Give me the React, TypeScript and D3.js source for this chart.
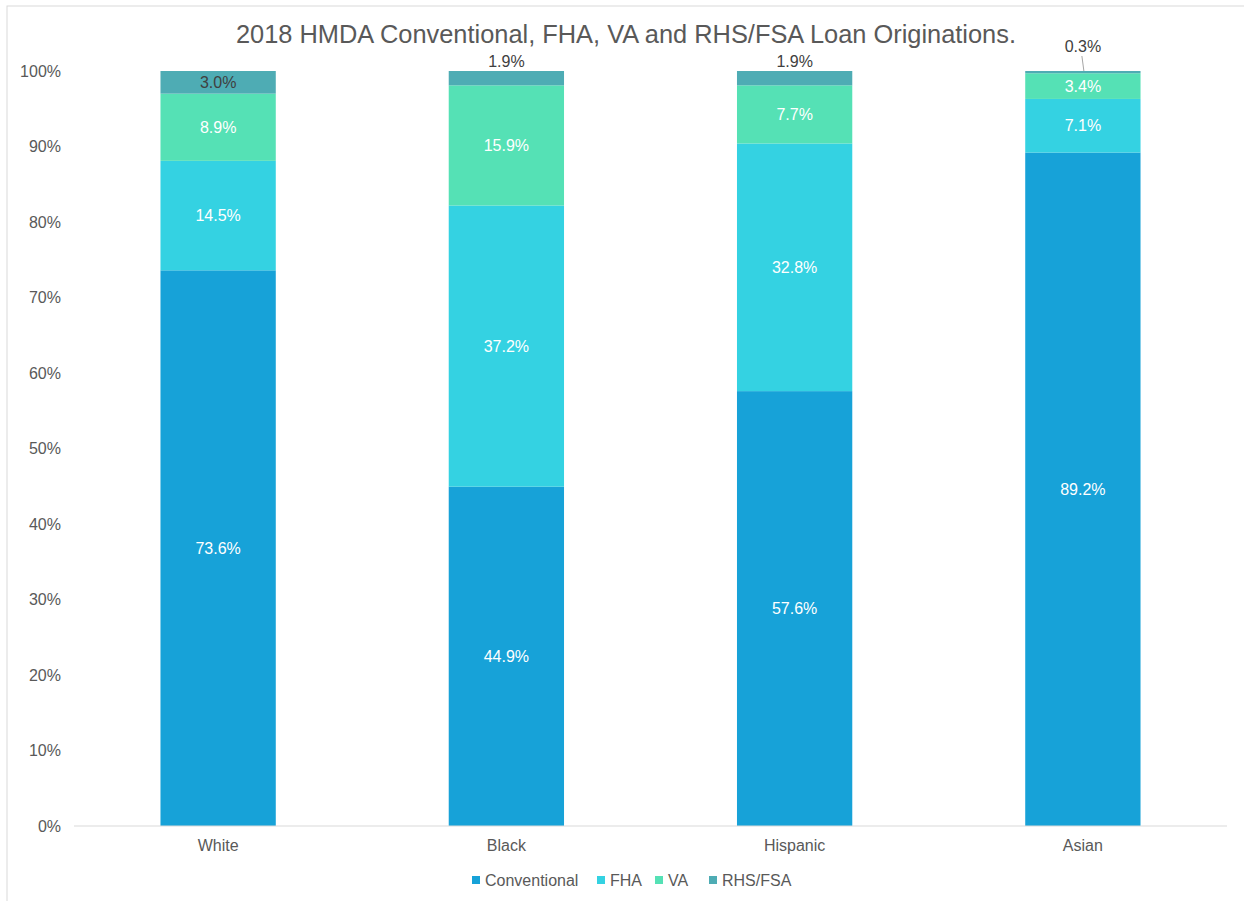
import React from "react"
import * as d3 from "d3"

const categories = ["White", "Black", "Hispanic", "Asian"]
const seriesNames = ["Conventional", "FHA", "VA", "RHS/FSA"]
const conventional = [73.6, 44.9, 57.6, 89.2]
const fha = [14.5, 37.2, 32.8, 7.1]
const va = [8.9, 15.9, 7.7, 3.4]
const rhsFsa = [3.0, 1.9, 1.9, 0.3]
const yTicks = [0, 0.1, 0.2, 0.3, 0.4, 0.5, 0.6, 0.7, 0.8, 0.9, 1]

const colors = ["#17a2d8", "#34d2e2", "#55e1b5", "#4eacb4"]
const textGray = "#595959"
const font = "'Liberation Sans', Arial, sans-serif"

const W = 1244
const H = 901
const margin = { top: 71, right: 17, bottom: 75, left: 74 }

export default function App() {
  const rows = categories.map((c, i) => ({
    name: c,
    Conventional: conventional[i],
    FHA: fha[i],
    VA: va[i],
    "RHS/FSA": rhsFsa[i],
  }))

  // Excel 100% stacked: normalise each column
  const stack = d3.stack<any>().keys(seriesNames).offset(d3.stackOffsetExpand)
  const layers = stack(rows)

  const x = d3
    .scaleBand()
    .domain(categories)
    .range([margin.left, W - margin.right])
    .paddingInner(0.6)
    .paddingOuter(0.3)

  const y = d3.scaleLinear().domain([0, 1]).range([H - margin.bottom, margin.top])

  const fmt = d3.format(".0%")

  return (
    <svg
      width={W}
      height={H}
      style={{ position: "absolute", left: 0, top: 0, background: "#fff" }}
      fontFamily={font}
    >
      <rect x={7} y={6} width={W} height={H} fill="none" stroke="#d9d9d9" />
      <text
        x={626}
        y={34}
        textAnchor="middle"
        dominantBaseline="central"
        fontSize={25.4}
        fill={textGray}
      >
        2018 HMDA Conventional, FHA, VA and RHS/FSA Loan Originations.
      </text>

      {yTicks.map(t => (
        <text
          key={t}
          x={61}
          y={y(t)}
          textAnchor="end"
          dominantBaseline="central"
          fontSize={16}
          fill={textGray}
        >
          {fmt(t)}
        </text>
      ))}

      {layers.map((layer, si) => (
        <g key={layer.key} fill={colors[si]}>
          {layer.map((d, i) => (
            <rect
              key={i}
              x={x(categories[i])}
              y={y(d[1])}
              width={x.bandwidth()}
              height={y(d[0]) - y(d[1])}
            />
          ))}
        </g>
      ))}

      <line
        x1={margin.left}
        x2={W - margin.right}
        y1={y(0)}
        y2={y(0)}
        stroke="#d9d9d9"
        strokeWidth={1.2}
      />

      {layers.map((layer, si) =>
        layer.map((d, i) => {
          const cx = x(categories[i])! + x.bandwidth() / 2
          const raw = (d.data as any)[layer.key] as number
          const h = y(d[0]) - y(d[1])
          const label = raw.toFixed(1) + "%"
          if (h >= 20) {
            return (
              <text
                key={layer.key + i}
                x={cx}
                y={(y(d[0]) + y(d[1])) / 2}
                textAnchor="middle"
                dominantBaseline="central"
                fontSize={16}
                fill={si === 3 ? "#404040" : "#ffffff"}
              >
                {label}
              </text>
            )
          }
          const far = h < 5
          const ly = y(1) - (far ? 25 : 10)
          return (
            <g key={layer.key + i}>
              {far && (
                <line x1={cx - 1} x2={cx + 1} y1={ly + 10} y2={y(d[1])} stroke="#a6a6a6" />
              )}
              <text
                x={cx}
                y={ly}
                textAnchor="middle"
                dominantBaseline="central"
                fontSize={16}
                fill="#404040"
              >
                {label}
              </text>
            </g>
          )
        })
      )}

      {categories.map(c => (
        <text
          key={c}
          x={x(c)! + x.bandwidth() / 2}
          y={845}
          textAnchor="middle"
          dominantBaseline="central"
          fontSize={16}
          fill={textGray}
        >
          {c}
        </text>
      ))}

      {seriesNames.map((s, i) => {
        const lx = [472, 597, 655, 709][i]
        return (
          <g key={s}>
            <rect x={lx} y={876} width={8} height={8} fill={colors[i]} />
            <text x={lx + 13} y={880} dominantBaseline="central" fontSize={16} fill={textGray}>
              {s}
            </text>
          </g>
        )
      })}
    </svg>
  )
}
